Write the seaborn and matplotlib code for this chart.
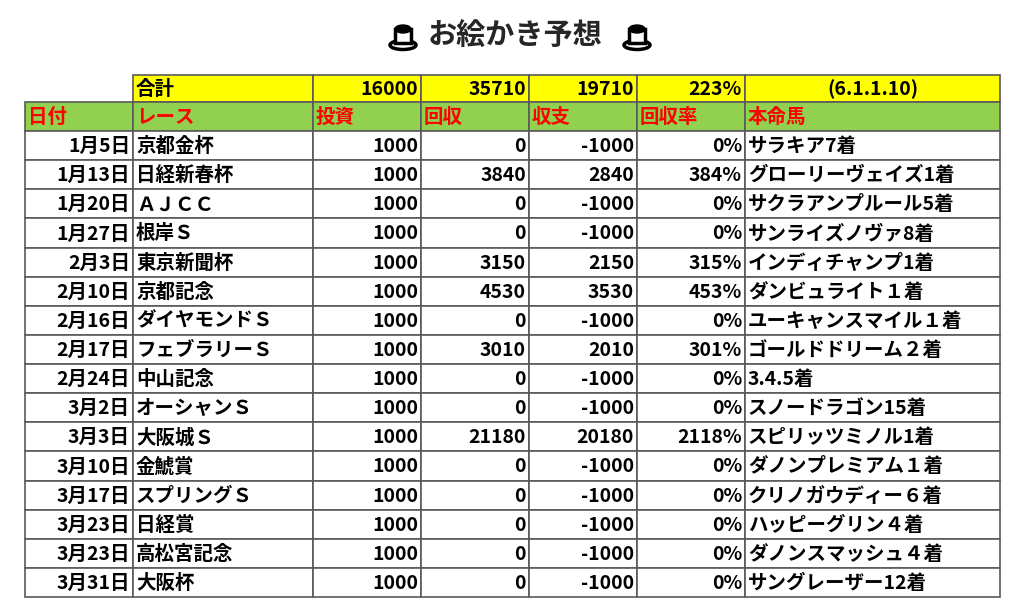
import matplotlib
matplotlib.use("Agg")
import matplotlib.pyplot as plt
from matplotlib.patches import Rectangle, Ellipse
import seaborn as sns

dates = ["1月5日", "1月13日", "1月20日", "1月27日", "2月3日", "2月10日", "2月16日", "2月17日",
         "2月24日", "3月2日", "3月3日", "3月10日", "3月17日", "3月23日", "3月23日", "3月31日"]
races = ["京都金杯", "日経新春杯", "ＡＪＣＣ", "根岸Ｓ", "東京新聞杯", "京都記念", "ダイヤモンドＳ",
         "フェブラリーＳ", "中山記念", "オーシャンＳ", "大阪城Ｓ", "金鯱賞", "スプリングＳ", "日経賞",
         "高松宮記念", "大阪杯"]
invest = [1000] * 16
payout = [0, 3840, 0, 0, 3150, 4530, 0, 3010, 0, 0, 21180, 0, 0, 0, 0, 0]
horses = ["サラキア7着", "グローリーヴェイズ1着", "サクラアンプルール5着", "サンライズノヴァ8着",
          "インディチャンプ1着", "ダンビュライト１着", "ユーキャンスマイル１着", "ゴールドドリーム２着",
          "3.4.5着", "スノードラゴン15着", "スピリッツミノル1着", "ダノンプレミアム１着",
          "クリノガウディー６着", "ハッピーグリン４着", "ダノンスマッシュ４着", "サングレーザー12着"]
headers = ["日付", "レース", "投資", "回収", "収支", "回収率", "本命馬"]
summary_label = "合計"
summary_note = "(6.1.1.10)"

col_edges = [25, 133, 313, 421, 529, 637, 745, 1000]
top_sum, top_head, top_data, bottom = 75, 102, 131, 597
row_h = (bottom - top_data) / len(dates)

sns.set_theme(style="white")
plt.rcParams['font.family'] = ['Noto Sans CJK JP', 'DejaVu Sans']

fig = plt.figure(figsize=(10.3, 6.15), dpi=100)
ax = fig.add_axes([0, 0, 1, 1])
ax.set_xlim(0, 1030)
ax.set_ylim(615, 0)
ax.axis("off")

FS = 14
grid = "#5a5a5a"

def cell(c, y0, h, text, color="black", bg="white", ha="left"):
    x0, x1 = col_edges[c], col_edges[c + 1]
    ax.add_patch(Rectangle((x0, y0), x1 - x0, h, facecolor=bg, edgecolor=grid, lw=1.2))
    if ha == "left":
        tx = x0 + 3
    elif ha == "right":
        tx = x1 - 3
    else:
        tx = (x0 + x1) / 2
    ax.text(tx, y0 + h / 2 + 1, text, ha=ha, va="center", fontsize=FS, color=color,
            fontweight="bold")

# summary row
tot_inv, tot_pay = sum(invest), sum(payout)
sum_vals = [summary_label, str(tot_inv), str(tot_pay), str(tot_pay - tot_inv),
            f"{round(tot_pay / tot_inv * 100)}%", summary_note]
for i, v in enumerate(sum_vals):
    cell(i + 1, top_sum, top_head - top_sum, v, bg="#FFFF00",
         ha="left" if i == 0 else ("center" if i == 5 else "right"))

# header row
for i, h in enumerate(headers):
    cell(i, top_head, top_data - top_head, h, color="#FF0000", bg="#92D050")

# data rows
for r in range(len(dates)):
    y0 = top_data + r * row_h
    vals = [dates[r], races[r], str(invest[r]), str(payout[r]), str(payout[r] - invest[r]),
            f"{round(payout[r] / invest[r] * 100)}%", horses[r]]
    aligns = ["right", "left", "right", "right", "right", "right", "left"]
    for c in range(7):
        cell(c, y0, row_h, vals[c], ha=aligns[c])

# title with small pudding icons
ax.text(515, 36, "お絵かき予想", ha="center", va="center", fontsize=21, fontweight="bold")

def pudding(cx, cy):
    ax.add_patch(Ellipse((cx, cy + 8), 26, 9, facecolor="white", edgecolor="black", lw=2.5))
    ax.add_patch(Rectangle((cx - 8, cy - 8), 16, 14, facecolor="white", edgecolor="black", lw=2.5))
    ax.add_patch(Ellipse((cx, cy - 8), 16, 8, facecolor="black", edgecolor="black", lw=1))

pudding(403, 37)
pudding(637, 37)

fig.savefig("out.png", dpi=100)
